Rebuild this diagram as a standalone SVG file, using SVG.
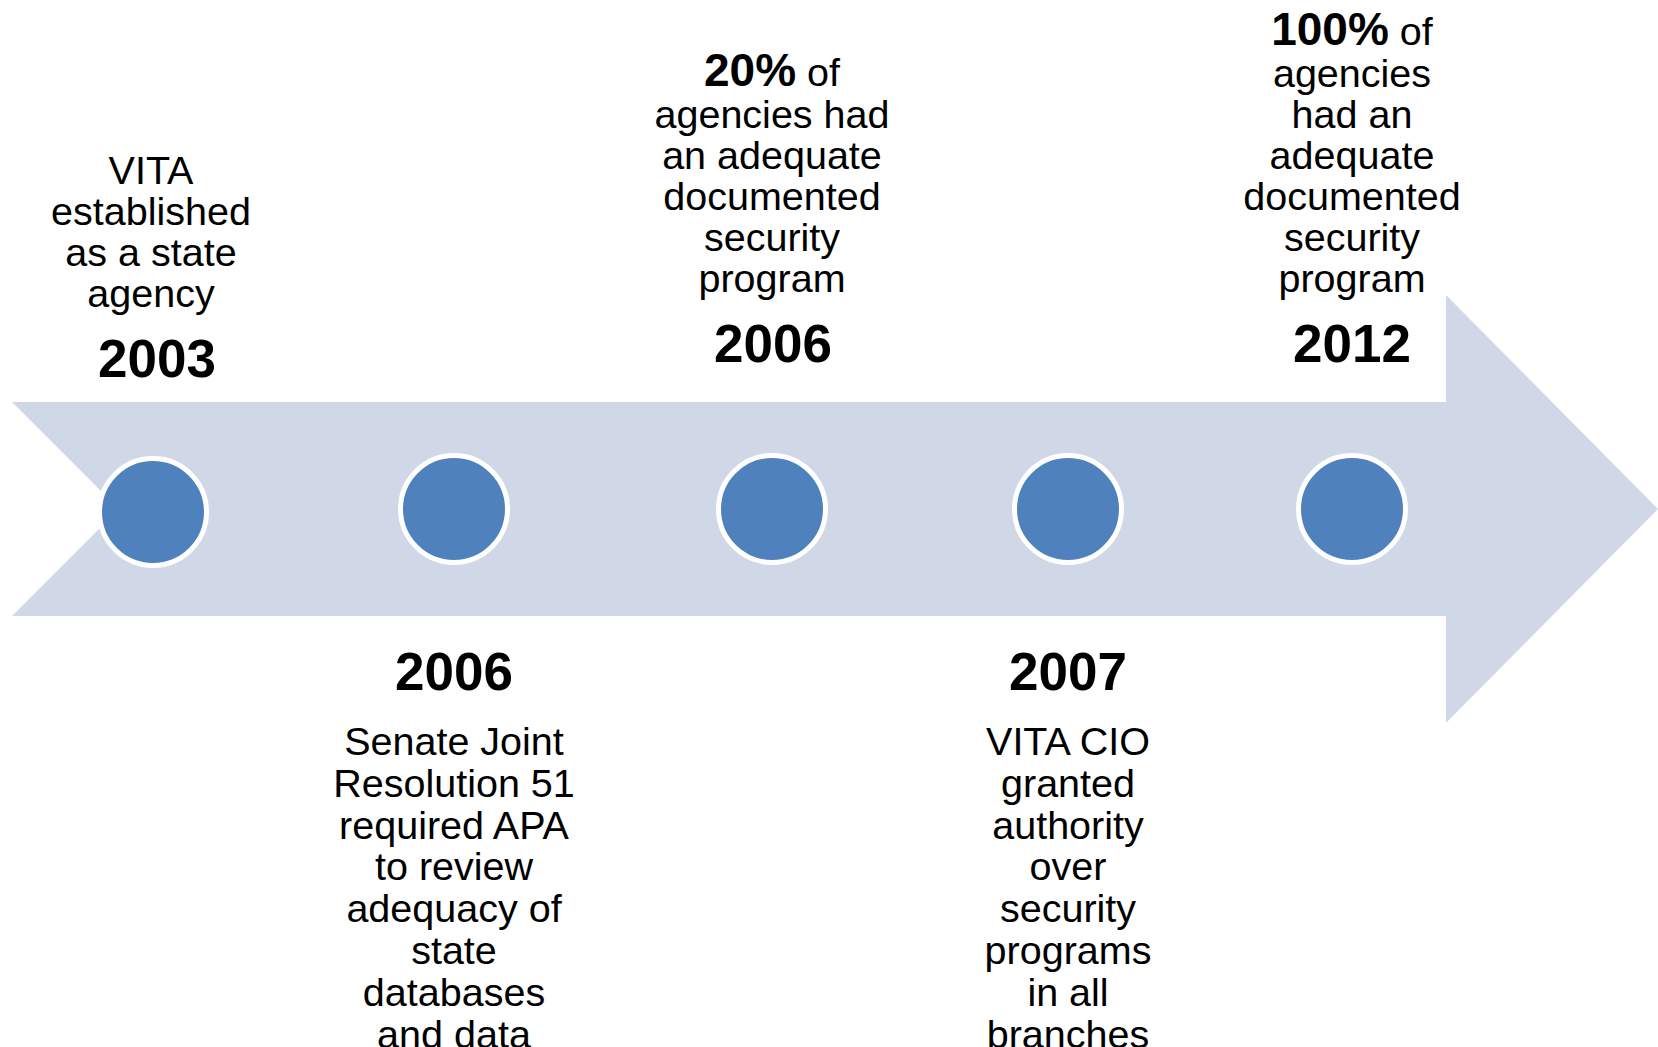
<svg xmlns="http://www.w3.org/2000/svg" width="1658" height="1047" viewBox="0 0 1658 1047">
  <style>
    .body { font-family: "Liberation Sans", Arial, sans-serif; font-size: 39.5px; fill: #000; text-anchor: middle; }
    .year { font-family: "Liberation Sans", Arial, sans-serif; font-size: 53px; font-weight: bold; fill: #000; text-anchor: middle; }
    .pct { font-weight: bold; font-size: 46px; }
    .dot { fill: #4F81BD; stroke: #FFFFFF; stroke-width: 5; }
    .band { fill: #D0D8E8; }
  </style>

  <!-- timeline band: notched tail, block arrow head -->
  <g id="connectors">
    <polygon class="band" points="12,402 1446,402 1446,295 1658,509 1446,723 1446,616 12,616 119,509"/>
  </g>

  <g id="m2003">
    <circle class="dot" cx="153" cy="512" r="53.5"/>
    <text class="body" x="151" y="184">VITA</text>
    <text class="body" x="151" y="225">established</text>
    <text class="body" x="151" y="266">as a state</text>
    <text class="body" x="151" y="307">agency</text>
    <text class="year" x="157" y="377">2003</text>
  </g>

  <g id="m2006-sjr51">
    <circle class="dot" cx="454" cy="509" r="53.5"/>
    <text class="year" x="454" y="690">2006</text>
    <text class="body" x="454" y="755">Senate Joint</text>
    <text class="body" x="454" y="797">Resolution 51</text>
    <text class="body" x="454" y="839">required APA</text>
    <text class="body" x="454" y="880">to review</text>
    <text class="body" x="454" y="922">adequacy of</text>
    <text class="body" x="454" y="964">state</text>
    <text class="body" x="454" y="1006">databases</text>
    <text class="body" x="454" y="1048">and data</text>
  </g>

  <g id="m2006-20pct">
    <circle class="dot" cx="772" cy="509" r="53.5"/>
    <text class="body" x="772" y="86"><tspan class="pct">20%</tspan> of</text>
    <text class="body" x="772" y="128">agencies had</text>
    <text class="body" x="772" y="169">an adequate</text>
    <text class="body" x="772" y="210">documented</text>
    <text class="body" x="772" y="251">security</text>
    <text class="body" x="772" y="292">program</text>
    <text class="year" x="773" y="362">2006</text>
  </g>

  <g id="m2007">
    <circle class="dot" cx="1068" cy="509" r="53.5"/>
    <text class="year" x="1068" y="690">2007</text>
    <text class="body" x="1068" y="755">VITA CIO</text>
    <text class="body" x="1068" y="797">granted</text>
    <text class="body" x="1068" y="839">authority</text>
    <text class="body" x="1068" y="880">over</text>
    <text class="body" x="1068" y="922">security</text>
    <text class="body" x="1068" y="964">programs</text>
    <text class="body" x="1068" y="1006">in all</text>
    <text class="body" x="1068" y="1048">branches</text>
  </g>

  <g id="m2012">
    <circle class="dot" cx="1352" cy="509" r="53.5"/>
    <text class="body" x="1352" y="45"><tspan class="pct">100%</tspan> of</text>
    <text class="body" x="1352" y="87">agencies</text>
    <text class="body" x="1352" y="128">had an</text>
    <text class="body" x="1352" y="169">adequate</text>
    <text class="body" x="1352" y="210">documented</text>
    <text class="body" x="1352" y="251">security</text>
    <text class="body" x="1352" y="292">program</text>
    <text class="year" x="1352" y="362">2012</text>
  </g>
</svg>
